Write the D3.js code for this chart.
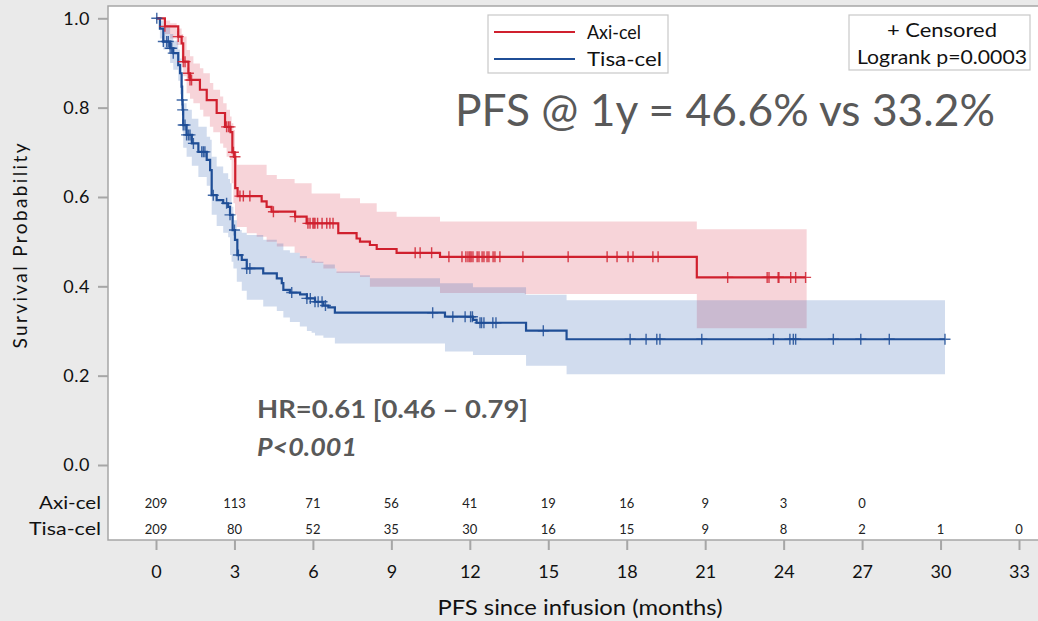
<!DOCTYPE html>
<html><head><meta charset="utf-8">
<script src="https://cdn.jsdelivr.net/npm/d3@7"></script>
<style>
html,body{margin:0;padding:0;background:#eaeaea;}
svg{display:block;font-family:Lato,"Open Sans",sans-serif;}
</style></head>
<body>
<svg id="c" width="1038" height="621"></svg>
<script>
// ---------- DATA ----------
const xTicks = [0,3,6,9,12,15,18,21,24,27,30,33];
const yTicks = [0,0.2,0.4,0.6,0.8,1.0];
const seriesNames = ["Axi-cel","Tisa-cel"];

// Axi-cel KM step curve (event times, survival after step)
const axiTimes = [0,0.34,0.85,0.98,1.04,1.24,1.30,1.68,1.94,2.32,2.64,2.85,2.92,3.0,3.03,3.12,4.04,4.23,4.42,5.32,5.76,6.97,7.67,7.80,8.18,8.44,9.2,10.86,20.68];
const axiSurv  = [1.0,0.982,0.959,0.944,0.903,0.877,0.862,0.84,0.817,0.788,0.757,0.745,0.70,0.69,0.62,0.602,0.59,0.578,0.567,0.556,0.541,0.519,0.507,0.50,0.4925,0.4835,0.475,0.466,0.42];
const axiEnd = 24.84;
const axiCensor = [0.34,0.85,1.04,1.11,1.24,1.30,1.36,2.70,2.77,2.83,2.96,3.02,3.21,3.34,3.59,4.49,5.32,5.81,5.89,6.0,6.04,6.08,6.18,6.35,6.53,6.65,6.77,9.91,10.1,10.54,11.2,11.7,11.85,11.93,12.0,12.05,12.12,12.28,12.35,12.47,12.54,12.66,12.73,12.89,12.96,13.15,14.03,15.76,17.25,17.63,18.05,18.24,19.0,19.2,21.86,23.37,23.44,23.79,23.82,24.27,24.46,24.84];
// Axi-cel 95% CI band
const axiBandTimes = [0,0.34,0.54,0.79,0.98,1.04,1.17,1.3,1.43,1.68,1.81,2.06,2.19,2.45,2.57,2.7,2.83,2.89,2.96,3.02,3.09,3.47,3.85,4.23,4.62,5.3,5.5,5.95,6.4,6.9,7.04,7.8,8.18,8.44,9.2,10.86,14.1,20.68];
const axiLower = [1.0,0.965,0.955,0.94,0.907,0.87,0.832,0.82,0.81,0.795,0.78,0.757,0.745,0.72,0.71,0.69,0.683,0.631,0.586,0.56,0.533,0.519,0.511,0.5,0.489,0.475,0.463,0.452,0.44,0.43,0.43,0.421,0.399,0.399,0.399,0.385,0.383,0.306];
const axiUpper = [1.0,0.995,0.989,0.977,0.965,0.959,0.929,0.915,0.899,0.888,0.877,0.855,0.84,0.825,0.81,0.795,0.78,0.765,0.75,0.70,0.672,0.672,0.672,0.649,0.64,0.631,0.631,0.608,0.608,0.608,0.597,0.586,0.586,0.567,0.556,0.545,0.545,0.528];
const axiBandEnd = 24.88;

// Tisa-cel KM step curve
const tisaTimes = [0,0.15,0.28,0.54,0.66,0.85,0.92,0.98,1.0,1.02,1.04,1.17,1.37,1.62,1.94,2.07,2.13,2.32,2.57,2.76,2.83,2.93,3.02,3.11,3.28,3.47,4.10,4.62,4.81,4.87,5.12,5.51,5.77,6.08,6.40,6.59,6.84,11.05,12.12,12.26,14.15,15.7];
const tisaSurv  = [1.0,0.977,0.948,0.933,0.922,0.895,0.877,0.847,0.817,0.795,0.761,0.739,0.72,0.701,0.683,0.66,0.604,0.593,0.586,0.578,0.56,0.526,0.504,0.47,0.459,0.44,0.429,0.418,0.407,0.392,0.386,0.382,0.373,0.3655,0.357,0.353,0.341,0.332,0.325,0.3185,0.3007,0.2815];
const tisaEnd = 30.17;
const tisaCensor = [0.03,0.28,0.41,0.47,0.54,0.6,0.66,1.0,1.02,1.04,1.11,1.17,1.24,1.30,1.43,1.75,1.81,1.87,2.19,2.7,2.83,3.0,3.15,3.47,3.59,5.19,5.77,5.9,6.08,6.2,6.35,6.48,10.58,11.35,11.82,12.03,12.1,12.39,12.45,12.54,12.88,13.0,14.81,18.13,18.74,19.15,19.27,20.87,23.61,24.24,24.37,24.46,25.9,26.95,28.04,30.17];
// Tisa-cel 95% CI band
const tisaBandTimes = [0,0.15,0.28,0.54,0.66,0.85,0.92,0.98,1.0,1.02,1.04,1.17,1.37,1.62,1.94,2.07,2.13,2.32,2.57,2.76,2.83,2.89,2.96,3.09,3.28,3.47,4.1,4.62,4.87,5.12,5.5,5.77,5.95,6.08,6.4,6.84,6.9,7.8,8.18,10.86,11.05,12.12,14.15,15.7];
const tisaLower = [1.0,0.955,0.93,0.9,0.885,0.86,0.83,0.8,0.77,0.745,0.71,0.69,0.67,0.645,0.625,0.6,0.56,0.535,0.52,0.51,0.47,0.455,0.44,0.41,0.39,0.37,0.355,0.345,0.33,0.32,0.31,0.3,0.296,0.29,0.285,0.272,0.272,0.272,0.272,0.272,0.254,0.246,0.222,0.203];
const tisaUpper = [1.0,0.995,0.98,0.965,0.95,0.93,0.91,0.89,0.86,0.84,0.81,0.795,0.775,0.757,0.735,0.728,0.69,0.668,0.653,0.64,0.631,0.578,0.548,0.526,0.52,0.515,0.504,0.496,0.481,0.475,0.468,0.463,0.458,0.455,0.449,0.44,0.433,0.425,0.418,0.407,0.407,0.398,0.381,0.369];
const tisaBandEnd = 30.17;

// Numbers at risk
const axiAtRisk  = [209,113,71,56,41,19,16,9,3,0];
const tisaAtRisk = [209,80,52,35,30,16,15,9,8,2,1,0];

// ---------- DRAW ----------
const svg = d3.select("#c");
const W = 1038, H = 621;
const frame = {left:108, top:6, right:1040, bottom:540};
const x = d3.scaleLinear().domain([0,33]).range([156,1019]);
const y = d3.scaleLinear().domain([0,1]).range([465,18.3]);

const redLine = "#d0202e", blueLine = "#1f4e96";
const redFill = "#d9283f", blueFill = "#2d5fb0";

svg.append("rect").attr("x",0).attr("y",0).attr("width",W).attr("height",H).attr("fill","#eaeaea");
svg.append("rect").attr("x",frame.left).attr("y",frame.top)
  .attr("width",frame.right-frame.left).attr("height",frame.bottom-frame.top)
  .attr("fill","#fff").attr("stroke","#a6a6a6").attr("stroke-width",1.5);

function stepPts(times, vals, end){
  const p = times.map((t,i)=>[t, vals[i]]);
  p.push([end, vals[vals.length-1]]);
  return p;
}
function bandPts(times, lo, hi, end){
  const p = times.map((t,i)=>({t, lo:lo[i], hi:hi[i]}));
  p.push({t:end, lo:lo[lo.length-1], hi:hi[hi.length-1]});
  return p;
}
function survAt(times, vals, t){
  let v = vals[0];
  for(let i=0;i<times.length;i++){ if(times[i] <= t + 1e-9) v = vals[i]; }
  return v;
}

const area = d3.area().curve(d3.curveStepAfter)
  .x(d=>x(d.t)).y0(d=>y(d.lo)).y1(d=>y(d.hi));
const line = d3.line().curve(d3.curveStepAfter).x(d=>x(d[0])).y(d=>y(d[1]));

const g = svg.append("g");
g.append("path").datum(bandPts(axiBandTimes,axiLower,axiUpper,axiBandEnd))
  .attr("d",area).attr("fill",redFill).attr("fill-opacity",0.2);
g.append("path").datum(bandPts(tisaBandTimes,tisaLower,tisaUpper,tisaBandEnd))
  .attr("d",area).attr("fill",blueFill).attr("fill-opacity",0.22);

g.append("path").datum(stepPts(tisaTimes,tisaSurv,tisaEnd))
  .attr("d",line).attr("fill","none").attr("stroke",blueLine).attr("stroke-width",2.2);
g.append("path").datum(stepPts(axiTimes,axiSurv,axiEnd))
  .attr("d",line).attr("fill","none").attr("stroke",redLine).attr("stroke-width",2.2);

function censors(list, times, vals, color){
  const s = 5.5;
  g.append("g").selectAll("path").data(list).join("path")
    .attr("d", t => {
      const cx = x(t), cy = y(survAt(times, vals, t));
      return `M${cx-s},${cy}H${cx+s}M${cx},${cy-s}V${cy+s}`;
    })
    .attr("stroke",color).attr("stroke-width",1.4).attr("stroke-opacity",0.85).attr("fill","none");
}
censors(tisaCensor, tisaTimes, tisaSurv, blueLine);
censors(axiCensor, axiTimes, axiSurv, redLine);

// Y axis
const yAxis = svg.append("g").attr("transform",`translate(${frame.left},0)`)
  .call(d3.axisLeft(y).tickValues(yTicks).tickFormat(d3.format(".1f")).tickSize(10).tickPadding(8));
yAxis.select(".domain").remove();
yAxis.selectAll(".tick line").attr("stroke","#a6a6a6").attr("stroke-width",2);
yAxis.selectAll(".tick text").attr("font-size",18).attr("fill","#111").attr("font-family","Lato").attr("letter-spacing","0.5px");

// X axis
const xAxis = svg.append("g").attr("transform",`translate(0,${frame.bottom})`)
  .call(d3.axisBottom(x).tickValues(xTicks).tickSize(10).tickPadding(15));
xAxis.select(".domain").remove();
xAxis.selectAll(".tick line").attr("stroke","#a6a6a6").attr("stroke-width",2);
xAxis.selectAll(".tick text").attr("font-size",18).attr("fill","#111").attr("font-family","Lato");

// Axis titles
svg.append("text").attr("transform","translate(27,246) rotate(-90)")
  .attr("text-anchor","middle").attr("font-size",19).attr("fill","#111")
  .attr("textLength",205).attr("lengthAdjust","spacing").text("Survival Probability");
svg.append("text").attr("x",580).attr("y",615).attr("text-anchor","middle")
  .attr("font-size",21).attr("fill","#111")
  .attr("textLength",285).attr("lengthAdjust","spacingAndGlyphs").text("PFS since infusion (months)");

// At-risk table
const riskRows = [{name:seriesNames[0], vals:axiAtRisk, y:509, w:62},{name:seriesNames[1], vals:tisaAtRisk, y:535, w:72}];
riskRows.forEach(r=>{
  svg.append("text").attr("x",101-r.w).attr("y",r.y)
    .attr("font-size",18).attr("fill","#111")
    .attr("textLength",r.w).attr("lengthAdjust","spacingAndGlyphs").text(r.name);
  svg.append("g").selectAll("text").data(r.vals).join("text")
    .attr("x",(d,i)=>x(xTicks[i])).attr("y",r.y-1).attr("text-anchor","middle")
    .attr("font-size",13).attr("fill","#222").text(d=>d);
});

// Legend
svg.append("rect").attr("x",488).attr("y",15).attr("width",180).attr("height",58)
  .attr("fill","#fff").attr("stroke","#c8c8c8").attr("stroke-width",1.2);
[[seriesNames[0],redLine,32,54],[seriesNames[1],blueLine,59,75]].forEach(([n,c,ly,w])=>{
  svg.append("line").attr("x1",494).attr("x2",575).attr("y1",ly).attr("y2",ly)
    .attr("stroke",c).attr("stroke-width",1.8);
  svg.append("text").attr("x",587).attr("y",ly+7).attr("font-size",19).attr("fill","#111")
    .attr("textLength",w).attr("lengthAdjust","spacingAndGlyphs").text(n);
});
svg.append("rect").attr("x",849).attr("y",15).attr("width",181).attr("height",55)
  .attr("fill","#fff").attr("stroke","#c8c8c8").attr("stroke-width",1.2);
svg.append("text").attr("x",887).attr("y",37).attr("font-size",19).attr("fill","#111")
  .attr("textLength",110).attr("lengthAdjust","spacingAndGlyphs").text("+ Censored");
svg.append("text").attr("x",857).attr("y",64).attr("font-size",19).attr("fill","#111")
  .attr("textLength",170).attr("lengthAdjust","spacingAndGlyphs").text("Logrank p=0.0003");

// Annotations
svg.append("text").attr("x",455).attr("y",126).attr("font-size",45).attr("fill","#595959")
  .attr("textLength",540).attr("lengthAdjust","spacingAndGlyphs").text("PFS @ 1y = 46.6% vs 33.2%");
svg.append("text").attr("x",257).attr("y",418).attr("font-size",24).attr("font-weight","bold").attr("fill","#595959")
  .attr("textLength",271).attr("lengthAdjust","spacingAndGlyphs").text("HR=0.61 [0.46 \u2013 0.79]");
svg.append("text").attr("x",257).attr("y",456).attr("font-size",24).attr("font-weight","bold").attr("font-style","italic").attr("fill","#595959")
  .attr("textLength",100).attr("lengthAdjust","spacingAndGlyphs").text("P<0.001");
</script>
</body></html>
